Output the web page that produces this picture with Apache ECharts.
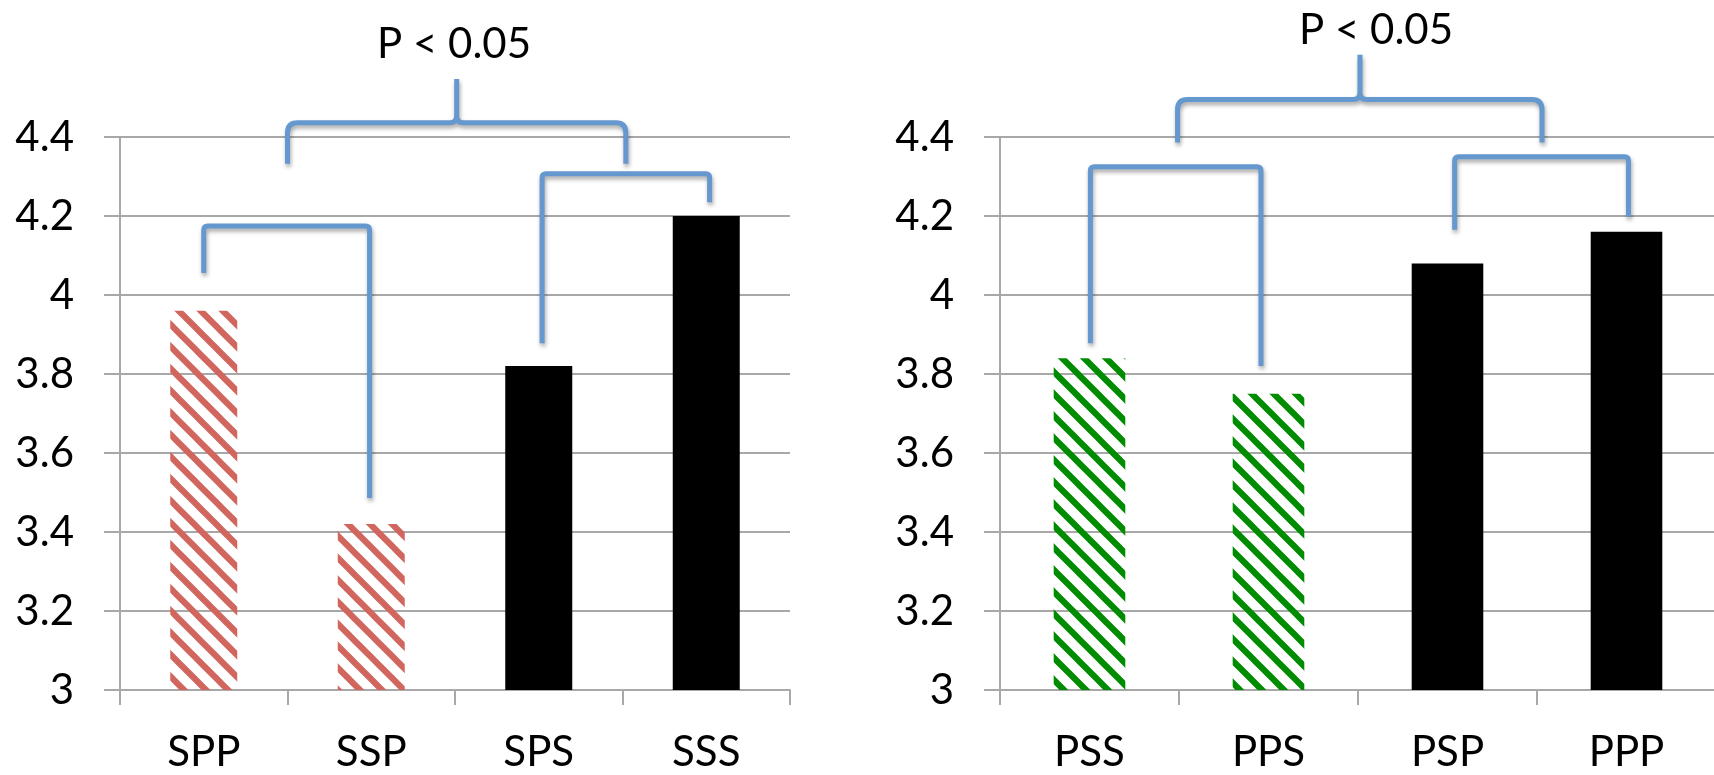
<!DOCTYPE html>
<html><head><meta charset="utf-8">
<script src="https://cdn.jsdelivr.net/npm/echarts@6/dist/echarts.min.js"></script>
<style>html,body{margin:0;padding:0;background:#fff;} #c{width:1714px;height:775px;}</style>
</head><body><div id="c"></div>
<script>
// ---- data ----
const leftCategories = ['SPP', 'SSP', 'SPS', 'SSS'];
const leftValues = [3.96, 3.42, 3.82, 4.20];
const leftHatched = [true, true, false, false];
const rightCategories = ['PSS', 'PPS', 'PSP', 'PPP'];
const rightValues = [3.84, 3.75, 4.08, 4.16];
const rightHatched = [true, true, false, false];
const yMin = 3, yMax = 4.4, yStep = 0.2;
const yTickLabels = ['3', '3.2', '3.4', '3.6', '3.8', '4', '4.2', '4.4'];
// brackets: [xStart, xEnd, yBar, yLeftEnd, yRightEnd] (category index / value units)
const leftBrackets = [[0.0, 0.99, 4.175, 4.056, 3.486], [2.02, 3.02, 4.307, 3.878, 4.235]];
const rightBrackets = [[0.005, 0.958, 4.325, 3.878, 3.82], [2.04, 3.011, 4.35, 4.165, 4.198]];
// braces: [xStart, xEnd, xPeak, yBar, yEnds, yPeak]
const leftBrace = [[0.5, 2.52, 1.51, 4.436, 4.332, 4.547]];
const rightBrace = [[0.492, 2.528, 1.511, 4.495, 4.386, 4.608]];
const pLabel = 'P < 0.05';

// ---- styles ----
const FONT = 'Lato';
const FS = 42;
const BLUE = '#6598CE';
const GRAY = '#A8A8A8';
const RED = '#D0665E';
const GREEN = '#008C00';

function hatch(color) {
  const P = 22, c = document.createElement('canvas');
  c.width = P; c.height = P;
  const g = c.getContext('2d');
  g.strokeStyle = color; g.lineWidth = 6.2; g.lineCap = 'square';
  for (const x0 of [-P, 0, P]) {
    g.beginPath(); g.moveTo(x0 - 3, -3); g.lineTo(x0 + P + 3, P + 3); g.stroke();
  }
  return { image: c, repeat: 'repeat' };
}

const shadow = { shadowColor: 'rgba(0,0,0,0.35)', shadowBlur: 4, shadowOffsetX: 1, shadowOffsetY: 3 };

function bracketSeries(xi, yi, data) {
  return {
    type: 'custom', xAxisIndex: xi, yAxisIndex: yi, silent: true, z: 5, clip: false,
    data: data,
    renderItem(params, api) {
      const x1 = api.value(0), x2 = api.value(1), yh = api.value(2), yl = api.value(3), yr = api.value(4);
      const p1 = api.coord([x1, yh]), p2 = api.coord([x2, yh]);
      const b1 = api.coord([x1, yl]), b2 = api.coord([x2, yr]);
      const r = 4;
      const d = `M${b1[0]} ${b1[1]} L${p1[0]} ${p1[1] + r} Q${p1[0]} ${p1[1]} ${p1[0] + r} ${p1[1]} ` +
        `L${p2[0] - r} ${p2[1]} Q${p2[0]} ${p2[1]} ${p2[0]} ${p2[1] + r} L${b2[0]} ${b2[1]}`;
      return { type: 'path', shape: { pathData: d }, style: Object.assign({ fill: 'none', stroke: BLUE, lineWidth: 5 }, shadow) };
    }
  };
}
function braceSeries(xi, yi, data) {
  return {
    type: 'custom', xAxisIndex: xi, yAxisIndex: yi, silent: true, z: 5, clip: false,
    data: data,
    renderItem(params, api) {
      const x1 = api.value(0), x2 = api.value(1), xm = api.value(2), yh = api.value(3), ye = api.value(4), yp = api.value(5);
      const L = api.coord([x1, yh]), R = api.coord([x2, yh]), M = api.coord([xm, yh]);
      const Lb = api.coord([x1, ye]), Rb = api.coord([x2, ye]), Pk = api.coord([xm, yp]);
      const r = 10, rm = 7, y = L[1];
      const d = `M${Lb[0]} ${Lb[1]} L${L[0]} ${y + r} Q${L[0]} ${y} ${L[0] + r} ${y} L${M[0] - rm} ${y} ` +
        `Q${M[0]} ${y} ${M[0]} ${y - rm} L${Pk[0]} ${Pk[1]} M${M[0]} ${y - rm} Q${M[0]} ${y} ${M[0] + rm} ${y} ` +
        `L${R[0] - r} ${y} Q${R[0]} ${y} ${R[0]} ${y + r} L${Rb[0]} ${Rb[1]}`;
      return { type: 'path', shape: { pathData: d }, style: Object.assign({ fill: 'none', stroke: BLUE, lineWidth: 5, lineJoin: 'round' }, shadow) };
    }
  };
}

function catAxis(gi, cats) {
  return {
    type: 'category', gridIndex: gi, data: cats,
    axisLine: { show: true, onZero: false, lineStyle: { color: GRAY, width: 2 } },
    axisTick: { show: true, length: 15, inside: false, lineStyle: { color: GRAY, width: 2 } },
    axisLabel: { fontFamily: FONT, fontSize: FS, color: '#000', margin: 41 },
    splitLine: { show: false }
  };
}
function hiddenX(gi) {
  return { type: 'value', gridIndex: gi, min: -0.5, max: 3.5, show: false,
    axisLine: { show: false, onZero: false }, splitLine: { show: false }, axisTick: { show: false }, axisLabel: { show: false } };
}
function valAxis(gi) {
  return {
    type: 'value', gridIndex: gi, min: yMin, max: yMax, interval: yStep,
    axisLine: { show: true, onZero: false, lineStyle: { color: GRAY, width: 2 } },
    axisTick: { show: true, length: 16, inside: false, lineStyle: { color: GRAY, width: 2 } },
    splitLine: { show: true, lineStyle: { color: GRAY, width: 2 } },
    axisLabel: {
      fontFamily: FONT, fontSize: FS, color: '#000', margin: 46, padding: [10, 0, 0, 0],
      formatter: (v) => yTickLabels[Math.round((v - yMin) / yStep)]
    }
  };
}
function barData(vals, hatched, color) {
  return vals.map((v, i) => ({ value: v, itemStyle: { color: hatched[i] ? hatch(color) : '#000' } }));
}

const chart = echarts.init(document.getElementById('c'), null, { renderer: 'canvas' });
chart.setOption({
  animation: false,
  backgroundColor: '#fff',
  grid: [
    { left: 120, top: 137, width: 670, height: 553, containLabel: false, outerBoundsMode: 'none' },
    { left: 1000, top: 137, width: 716, height: 553, containLabel: false, outerBoundsMode: 'none' }
  ],
  xAxis: [catAxis(0, leftCategories), hiddenX(0), catAxis(1, rightCategories), hiddenX(1)],
  yAxis: [valAxis(0), valAxis(1)],
  series: [
    { type: 'bar', xAxisIndex: 0, yAxisIndex: 0, barWidth: '40%', data: barData(leftValues, leftHatched, RED), silent: true },
    { type: 'bar', xAxisIndex: 2, yAxisIndex: 1, barWidth: '40%', data: barData(rightValues, rightHatched, GREEN), silent: true },
    bracketSeries(1, 0, leftBrackets),
    braceSeries(1, 0, leftBrace),
    bracketSeries(3, 1, rightBrackets),
    braceSeries(3, 1, rightBrace)
  ],
  graphic: [
    { type: 'text', x: 454, y: 44, style: { text: pLabel, fontFamily: FONT, fontSize: FS, fill: '#000', align: 'center', verticalAlign: 'middle' } },
    { type: 'text', x: 1376, y: 30, style: { text: pLabel, fontFamily: FONT, fontSize: FS, fill: '#000', align: 'center', verticalAlign: 'middle' } }
  ]
});
</script>
</body></html>
